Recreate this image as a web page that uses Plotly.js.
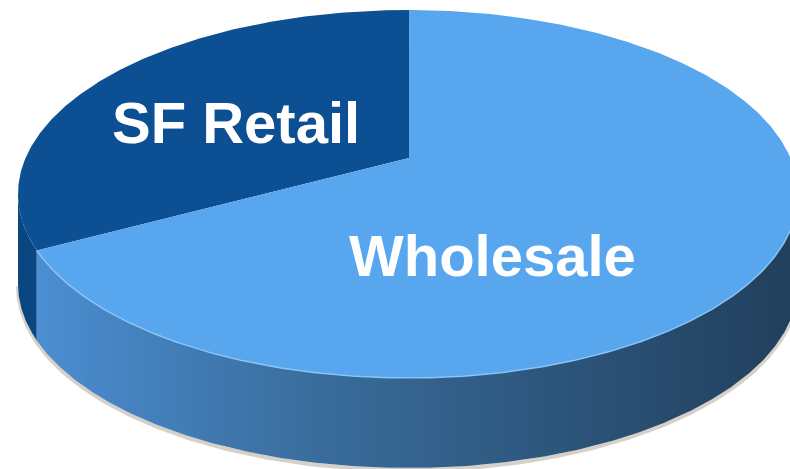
<!DOCTYPE html>
<html>
<head>
<meta charset="utf-8">
<script src="https://cdn.plot.ly/plotly-3.0.1.min.js"></script>
<style>html,body{margin:0;padding:0;background:#fff;}#chart{width:790px;height:469px;}</style>
</head>
<body>
<div id="chart"></div>
<script>
// ---- data ----
var categories = ["SF Retail", "Wholesale"];
var values = [30, 70];
var topColors = ["#0C4F92", "#58A6EE"];
var sideColors = ["#0A4681", "#4A8DD0"];

// ---- geometry (style) ----
var W = 790, H = 469;
var cx = 408, cy = 194, rx = 390, ry = 184, depth = 90;
var apex = [409, 158];
var startDeg = 0.15; // first slice ends at top, drawn counter-clockwise

function pt(deg, dy) {
  var t = deg * Math.PI / 180;
  return [cx + rx * Math.sin(t), cy - ry * Math.cos(t) + (dy || 0)];
}
function arc(a, b, dy) {
  var xs = [], ys = [], n = Math.max(2, Math.ceil(Math.abs(b - a) * 2));
  for (var i = 0; i <= n; i++) {
    var p = pt(a + (b - a) * i / n, dy);
    xs.push(p[0]); ys.push(p[1]);
  }
  return [xs, ys];
}

var total = values.reduce(function (s, v) { return s + v; }, 0);
var a0 = startDeg - values[0] / total * 360;
var spans = [[a0, startDeg], [startDeg, a0 + 360]];

var traces = [];

// soft shadow below the base
var sh = arc(90, 270, depth + 2);
traces.push({x: sh[0], y: sh[1], mode: 'lines', line: {color: 'rgba(140,120,100,0.35)', width: 4}, hoverinfo: 'skip', showlegend: false});

// side walls (visible front: 90..270)
spans.forEach(function (s, i) {
  var segs = [];
  [[s[0], s[1]], [s[0] + 360, s[1] + 360], [s[0] - 360, s[1] - 360]].forEach(function (r) {
    var a = Math.max(r[0], 90), b = Math.min(r[1], 270);
    if (b > a) segs.push([a, b]);
  });
  segs.forEach(function (sg) {
    var top = arc(sg[0], sg[1], 0), bot = arc(sg[1], sg[0], depth);
    var tr = {
      x: top[0].concat(bot[0]).concat([top[0][0]]),
      y: top[1].concat(bot[1]).concat([top[1][0]]),
      mode: 'lines', fill: 'toself', line: {width: 0, color: sideColors[i]},
      fillcolor: sideColors[i], hoverinfo: 'skip', showlegend: false
    };
    if (i === 1) {
      tr.fillgradient = {type: 'horizontal',
        colorscale: [[0, '#4B8ED2'], [0.35, '#3A6E9E'], [0.7, '#2C5479'], [1, '#213F5C']]};
    }
    traces.push(tr);
  });
});

// top faces
spans.forEach(function (s, i) {
  var a = arc(s[0], s[1], 0);
  traces.push({
    x: [apex[0]].concat(a[0]).concat([apex[0]]),
    y: [apex[1]].concat(a[1]).concat([apex[1]]),
    mode: 'lines', fill: 'toself', line: {width: 0, color: topColors[i]},
    fillcolor: topColors[i], name: categories[i], hoverinfo: 'name', showlegend: false
  });
});

// light bevel on the front edge of the top
var bv = arc(90, a0 + 360, 0);
traces.push({x: bv[0], y: bv[1], mode: 'lines', line: {color: 'rgba(140,200,250,0.9)', width: 1.5}, hoverinfo: 'skip', showlegend: false});

var labelPos = [[236, 122], [492, 255]];
var annotations = categories.map(function (c, i) {
  return {x: labelPos[i][0], y: labelPos[i][1], text: '<b>' + c + '</b>', showarrow: false,
    xanchor: 'center', yanchor: 'middle',
    font: {family: 'Liberation Sans, Arial, sans-serif', size: 58, color: '#FFFFFF'}};
});

var layout = {
  width: W, height: H, margin: {l: 0, r: 0, t: 0, b: 0},
  paper_bgcolor: '#FFFFFF', plot_bgcolor: '#FFFFFF',
  xaxis: {range: [0, W], visible: false, fixedrange: true},
  yaxis: {range: [H, 0], visible: false, fixedrange: true},
  showlegend: false, annotations: annotations
};
Plotly.newPlot('chart', traces, layout, {displayModeBar: false, staticPlot: true});
</script>
</body>
</html>
